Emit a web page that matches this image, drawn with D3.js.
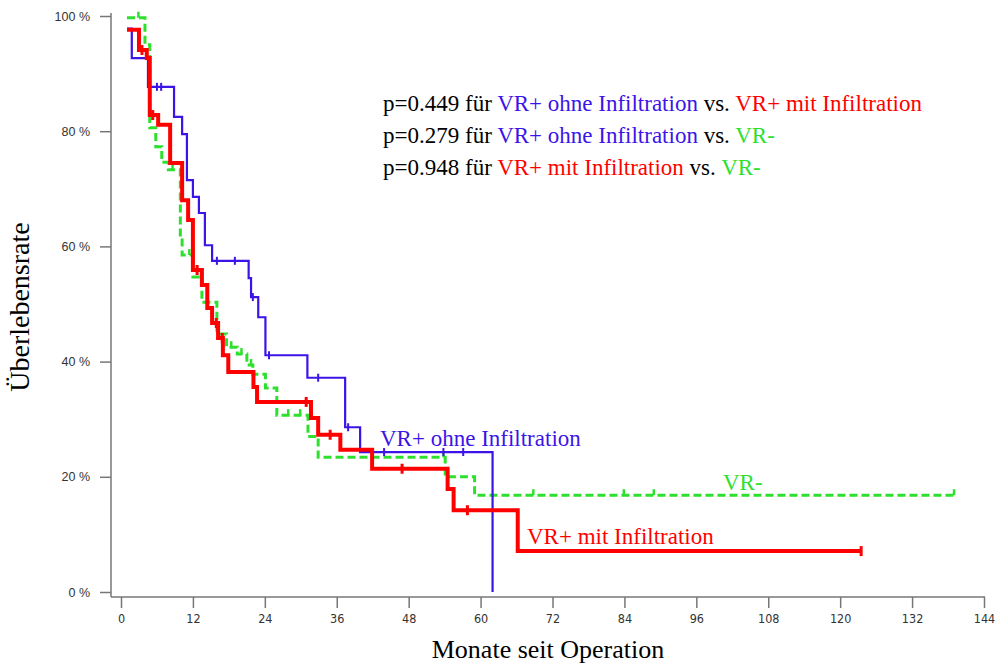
<!DOCTYPE html>
<html>
<head>
<meta charset="utf-8">
<script src="https://cdn.jsdelivr.net/npm/d3@7"></script>
<style>
  body { margin: 0; background: #fff; }
  svg { display: block; }
</style>
</head>
<body>
<svg id="chart"></svg>
<script>
// Kaplan-Meier steps: time (months) of each drop and the survival (%) after it
const ohneT = [1.0, 1.8, 4.5, 8.85, 10.2, 11.0, 12.0, 13.0, 14.0, 15.2, 21.3, 21.7, 22.9, 24.1, 31.1, 37.4, 39.9, 62.0];
const ohneS = [97.8, 92.7, 87.7, 82.5, 79.5, 71.5, 68.6, 65.8, 60.2, 57.5, 54.5, 51.2, 47.7, 41.1, 37.2, 28.6, 24.3, 0];
const ohneCensor = [6.0, 6.7, 16.0, 19.0, 22.0, 24.7, 32.9, 37.9, 43.9, 53.8, 57.1];

const mitT = [1.0, 3.0, 4.3, 4.8, 6.2, 8.2, 10.2, 11.2, 12.0, 13.5, 14.4, 15.2, 16.2, 17.0, 17.9, 22.1, 22.7, 31.7, 32.9, 36.6, 41.9, 54.5, 55.5, 66.2, 123.5];
const mitS = [97.6, 94.1, 92.7, 82.8, 81.1, 74.5, 68.0, 64.6, 55.9, 53.3, 49.3, 46.7, 44.1, 41.1, 38.2, 35.6, 33.0, 30.2, 27.3, 24.7, 21.4, 17.9, 14.2, 7.1, 7.1];
const mitCensor = [3.5, 5.3, 12.7, 15.9, 16.9, 30.9, 34.9, 46.9, 57.8, 123.5];

const negT = [1.0, 4.0, 4.8, 5.8, 6.8, 7.9, 9.9, 10.2, 12.0, 13.5, 16.0, 17.6, 19.4, 21.0, 22.0, 24.1, 26.0, 31.2, 32.9, 54.1, 59.0, 139.0];
const negS = [99.7, 95.0, 80.6, 77.3, 74.6, 73.3, 62.0, 58.5, 54.7, 50.3, 44.8, 42.5, 41.3, 39.4, 37.8, 35.4, 30.7, 27.0, 23.4, 20.0, 16.8, 16.8];
const negCensor = [2.9, 8.6, 11.4, 18.4, 20.1, 21.7, 27.9, 29.9, 53.8, 68.8, 83.9, 88.9, 139.0];

const xTicks = [0, 12, 24, 36, 48, 60, 72, 84, 96, 108, 120, 132, 144];
const yTicks = [0, 20, 40, 60, 80, 100];

const pLines = [
    [["p=0.449 für ", "black"], ["VR+ ohne Infiltration", "ohne"], [" vs. ", "black"], ["VR+ mit Infiltration", "mit"]],
    [["p=0.279 für ", "black"], ["VR+ ohne Infiltration", "ohne"], [" vs. ", "black"], ["VR-", "neg"]],
    [["p=0.948 für ", "black"], ["VR+ mit Infiltration", "mit"], [" vs. ", "black"], ["VR-", "neg"]]
];

const colors = { ohne: "#3c14e8", mit: "#ff0000", neg: "#2ee02e", black: "#000" };

const width = 1000, height = 666;
const svg = d3.select("#chart").attr("width", width).attr("height", height);
svg.append("rect").attr("width", width).attr("height", height).attr("fill", "#fff");

const x = d3.scaleLinear().domain([0, 144]).range([121, 984]);
const y = d3.scaleLinear().domain([0, 100]).range([592, 16]);

const axisColor = "#777";
const serif = "Liberation Serif";

// y axis
const yAxis = svg.append("g")
    .attr("transform", "translate(111,0)")
    .call(d3.axisLeft(y).tickValues(yTicks).tickFormat(d => d + " %").tickSize(11).tickSizeOuter(0));
yAxis.select(".domain").remove();
yAxis.selectAll("line").attr("stroke", axisColor).attr("stroke-width", 1.5);
yAxis.selectAll("text")
    .attr("x", -21)
    .attr("fill", "#333")
    .attr("font-family", "Liberation Sans")
    .attr("font-size", 12.5);
svg.append("line")
    .attr("x1", 111).attr("x2", 111)
    .attr("y1", y(100) - 3).attr("y2", 597)
    .attr("stroke", axisColor).attr("stroke-width", 1.5);

// x axis
const xAxis = svg.append("g")
    .attr("transform", "translate(0,597)")
    .call(d3.axisBottom(x).tickValues(xTicks).tickSize(11).tickSizeOuter(0));
xAxis.select(".domain").remove();
xAxis.selectAll("line").attr("stroke", axisColor).attr("stroke-width", 1.5);
xAxis.selectAll("text")
    .attr("y", 17)
    .attr("fill", "#333")
    .attr("font-family", "DejaVu Sans Condensed, DejaVu Sans")
    .style("font-stretch", "condensed")
    .attr("font-size", 12.5);
svg.append("line")
    .attr("x1", 111).attr("x2", x(144) + 1)
    .attr("y1", 597).attr("y2", 597)
    .attr("stroke", axisColor).attr("stroke-width", 1.5);

// axis titles
svg.append("text")
    .attr("x", 548).attr("y", 658)
    .attr("text-anchor", "middle")
    .attr("font-family", serif).attr("font-size", 26)
    .text("Monate seit Operation");
svg.append("text")
    .attr("transform", "translate(29,307) rotate(-90)")
    .attr("text-anchor", "middle")
    .attr("font-family", serif).attr("font-size", 28)
    .text("Überlebensrate");

const line = d3.line()
    .x(d => x(d[0]))
    .y(d => y(d[1]))
    .curve(d3.curveStepAfter);

function survAt(T, S, t) {
    let s = S[0];
    for (let i = 0; i < T.length; i++) if (T[i] <= t) s = S[i];
    return s;
}

const plot = svg.append("g");

function drawCurve(T, S, censor, color, lw, dash, tickUp, tickDown, tickW) {
    const pts = T.map((t, i) => [t, S[i]]);
    plot.append("path")
        .datum(pts)
        .attr("d", line)
        .attr("fill", "none")
        .attr("stroke", color)
        .attr("stroke-width", lw)
        .attr("stroke-dasharray", dash);
    plot.selectAll(null)
        .data(censor)
        .join("line")
        .attr("x1", d => x(d)).attr("x2", d => x(d))
        .attr("y1", d => y(survAt(T, S, d)) - tickUp)
        .attr("y2", d => y(survAt(T, S, d)) + tickDown)
        .attr("stroke", color)
        .attr("stroke-width", tickW);
}

drawCurve(negT, negS, negCensor, colors.neg, 3, "8,4", 6, 0, 2.5);
drawCurve(ohneT, ohneS, ohneCensor, colors.ohne, 2.2, null, 4, 4, 2);
drawCurve(mitT, mitS, mitCensor, colors.mit, 4, null, 5, 5, 3);

// curve labels
const labelSize = 23;
svg.append("text").attr("x", 380).attr("y", 446)
    .attr("fill", colors.ohne).attr("font-family", serif).attr("font-size", labelSize)
    .text("VR+ ohne Infiltration");
svg.append("text").attr("x", 723).attr("y", 490)
    .attr("fill", colors.neg).attr("font-family", serif).attr("font-size", labelSize)
    .text("VR-");
svg.append("text").attr("x", 527).attr("y", 544)
    .attr("fill", colors.mit).attr("font-family", serif).attr("font-size", labelSize)
    .text("VR+ mit Infiltration");

// p-values
const pText = svg.append("g");
pLines.forEach((parts, i) => {
    const t = pText.append("text")
        .attr("x", 383).attr("y", 111 + i * 32)
        .attr("font-family", serif).attr("font-size", labelSize);
    parts.forEach(p => {
        t.append("tspan")
            .attr("font-family", serif)
            .attr("fill", colors[p[1]])
            .text(p[0]);
    });
});
</script>
</body>
</html>
